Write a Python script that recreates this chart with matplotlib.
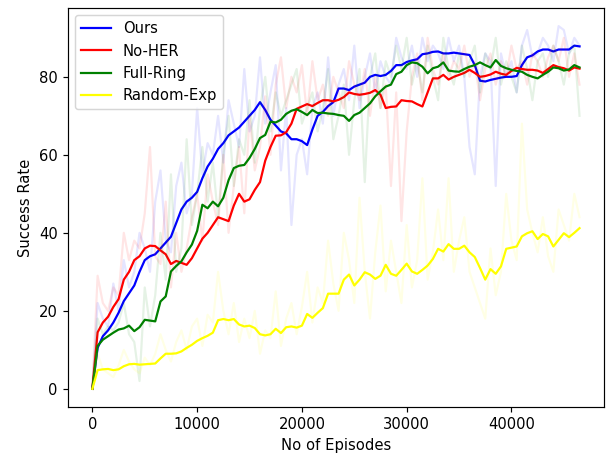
import matplotlib
matplotlib.use("Agg")
import matplotlib.pyplot as plt
import numpy as np

# episodes at which success rate was evaluated
episodes = np.arange(94) * 500

labels = ['Ours', 'No-HER', 'Full-Ring', 'Random-Exp']
colors = ['blue', 'red', 'green', 'yellow']

# smoothed curves
ours_smooth = [0, 10.5, 13.5, 15, 17, 19.5, 22.5, 24.5, 26.5, 30,
               33, 34, 34.5, 36, 37.5, 39, 42.5, 46, 48, 49,
               50.5, 54, 57, 59, 61.5, 63, 65, 66, 67, 68.5,
               70, 71.5, 73.5, 71.5, 69, 67.5, 66, 65.5, 64, 64,
               63.5, 62.5, 66.5, 70, 71, 72.5, 73.5, 77, 77, 76.6,
               77.5, 78, 78.5, 80, 80.5, 80.2, 80.5, 81.5, 83, 83,
               83.8, 84.2, 84.5, 85.8, 86, 86.4, 86.5, 86, 86, 86.2,
               86, 85.8, 85.6, 83, 79, 78.8, 79.2, 79.5, 79.8, 80,
               80, 80.2, 83, 85, 85.5, 86.5, 87, 87, 86.5, 87,
               87, 87, 88, 87.8]
noher_smooth = [0, 14.5, 17, 18.5, 21, 23, 28, 30, 33, 34,
                36, 36.7, 36.6, 35.5, 34.5, 32, 32.8, 32.3, 31.8, 33.5,
                36, 38.5, 40, 42, 44, 43.5, 43, 47, 50, 48,
                48.6, 51, 53, 58.5, 62, 64.9, 65, 65.8, 68, 71.8,
                72.4, 73, 72.5, 73.3, 74, 74, 73.7, 74.1, 74.8, 76,
                75.6, 75.4, 75.6, 75.9, 76.6, 75.4, 72, 72.3, 72.4, 74,
                73.8, 73.7, 73, 72.4, 76, 79.6, 79.6, 80.5, 79.3, 80,
                80.5, 81, 81.8, 81, 80, 80.2, 80.6, 81.3, 80.8, 80.5,
                81.5, 82.3, 82, 81.8, 81.8, 81.6, 81, 82, 83, 82.5,
                82.2, 81.6, 82.4, 82.1]
ring_smooth = [0, 11, 12.6, 13.5, 14.4, 15.2, 15.5, 16.2, 14.8, 15.8,
               17.7, 17.5, 17.3, 22.4, 23.7, 30.1, 31.5, 32.7, 35, 37,
               40.5, 47.2, 46.3, 48, 46.8, 49, 53.5, 56.6, 57.2, 57.4,
               59.2, 61.5, 64.3, 65.1, 68.5, 68.3, 69, 70.5, 71.3, 71.7,
               71, 70.2, 71.5, 70.7, 70.8, 70.6, 70.5, 70.2, 70, 68.7,
               70.2, 70.8, 72, 73.2, 75, 76.3, 77.5, 78, 80.7, 81.3,
               83, 83.7, 83.5, 82.6, 80.9, 82.2, 82.6, 83.7, 81.6, 81.4,
               81.3, 82, 82.6, 83, 83.7, 83, 82.4, 84.3, 82.8, 82.2,
               81.8, 81.5, 81.3, 80.5, 80, 79.6, 80.5, 81.3, 82.4, 82.2,
               81.6, 81.9, 83, 82.4]
rand_smooth = [0, 4.8, 5, 5.1, 4.8, 5, 5.8, 6.3, 6.4, 6.2,
               6.3, 6.4, 6.5, 7.8, 9, 9, 9.1, 9.6, 10.5, 11.3,
               12.3, 13, 13.6, 14.4, 17.6, 17.9, 17.6, 17.9, 16.5, 16,
               16.2, 15.6, 14, 13.7, 14, 15.4, 14.3, 15.8, 16, 15.7,
               16.2, 19.2, 18.2, 19.5, 20.7, 24.4, 24.4, 24.4, 28, 29.3,
               26.5, 28, 29.9, 29.3, 28.2, 29, 31.8, 29.5, 29, 30.5,
               32.1, 30.1, 29.5, 30.5, 31.6, 33.3, 35.9, 35.2, 37.1, 35.9,
               35.9, 36.7, 35, 33.8, 31, 28, 30.7, 29.5, 31.4, 35.9,
               36.2, 36.5, 39.1, 39.9, 40.4, 38.4, 39.7, 39.1, 36.5, 38.2,
               39.9, 38.9, 40, 41.2]

# raw (faint) curves
ours_raw = [0, 22, 18, 16, 27, 20, 33, 26, 30, 40,
            36, 30, 48, 56, 38, 35, 52, 58, 45, 50,
            72, 55, 63, 60, 70, 58, 74, 68, 62, 82,
            66, 70, 85, 68, 76, 83, 56, 72, 42, 60,
            64, 55, 72, 76, 68, 85, 70, 78, 82, 74,
            88, 72, 80, 86, 76, 84, 80, 78, 90, 85,
            82, 88, 80, 90, 84, 88, 86, 82, 90, 84,
            88, 80, 62, 55, 80, 86, 84, 52, 86, 80,
            84, 76, 88, 92, 85, 86, 90, 88, 84, 93,
            92, 86, 90, 88]
noher_raw = [0, 29, 22, 20, 26, 24, 40, 33, 38, 36,
             45, 62, 34, 32, 48, 26, 40, 30, 36, 44,
             50, 38, 55, 48, 42, 60, 40, 52, 62, 45,
             70, 56, 62, 75, 60, 78, 85, 72, 80, 76,
             83, 70, 84, 74, 78, 70, 80, 76, 72, 84,
             78, 74, 82, 70, 80, 72, 78, 52, 76, 43,
             66, 80, 86, 74, 90, 82, 78, 86, 80, 84,
             82, 88, 80, 84, 74, 82, 86, 78, 84, 80,
             88, 82, 84, 78, 86, 84, 80, 85, 88, 84,
             90, 80, 86, 78]
ring_raw = [0, 18, 14, 16, 15, 17, 22, 14, 12, 2,
            26, 16, 24, 40, 28, 55, 30, 36, 64, 42,
            50, 62, 48, 58, 44, 60, 70, 52, 64, 60,
            74, 58, 72, 80, 66, 76, 70, 74, 78, 82,
            68, 72, 76, 66, 72, 82, 64, 70, 78, 60,
            74, 82, 53, 80, 86, 72, 84, 80, 88, 82,
            90, 78, 84, 76, 88, 80, 74, 90, 82, 78,
            86, 80, 84, 88, 76, 86, 82, 90, 78, 84,
            80, 76, 88, 82, 74, 84, 86, 80, 88, 84,
            78, 86, 88, 70]
rand_raw = [0, 9, 5, 4, 3, 6, 10, 7, 5, 4,
            8, 6, 9, 14, 10, 7, 12, 15, 10, 16,
            18, 11, 19, 17, 30, 20, 14, 22, 12, 18,
            13, 20, 9, 15, 13, 25, 11, 18, 22, 14,
            21, 30, 17, 26, 22, 38, 27, 20, 40, 33,
            22, 49, 30, 18, 35, 47, 25, 38, 30, 22,
            42, 26, 33, 54, 28, 35, 46, 33, 54, 30,
            38, 44, 30, 26, 22, 18, 36, 24, 30, 50,
            38, 33, 68, 46, 40, 35, 44, 34, 30, 46,
            42, 38, 50, 44]

smooth = [ours_smooth, noher_smooth, ring_smooth, rand_smooth]
raw = [ours_raw, noher_raw, ring_raw, rand_raw]

dpi = 106.4
fig = plt.figure(figsize=(610 / dpi, 456 / dpi), dpi=dpi)
ax = fig.add_axes([0.1115, 0.1075, 0.8785, 0.875])

for r, s, c, lab in zip(raw, smooth, colors, labels):
    ax.plot(episodes, r, color=c, alpha=0.1)
    ax.plot(episodes, s, color=c, label=lab)

ax.set_xlabel('No of Episodes')
ax.set_ylabel('Success Rate')
ax.legend(loc='upper left')

fig.savefig('out.png', dpi=dpi)
